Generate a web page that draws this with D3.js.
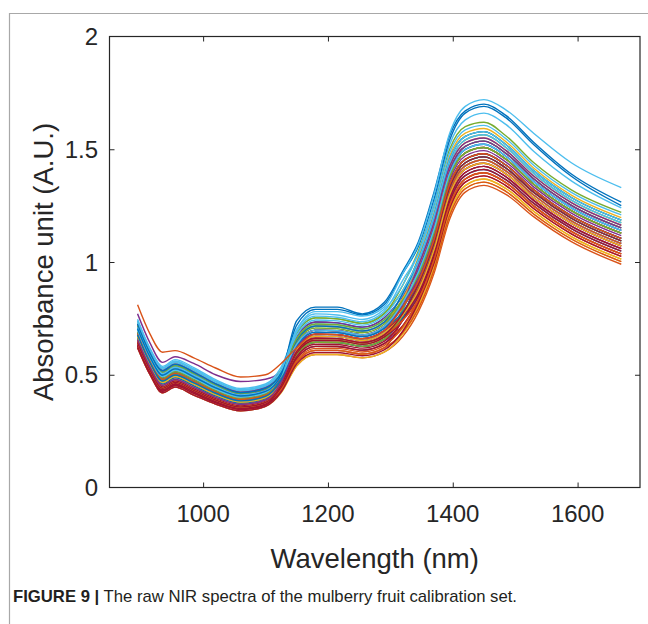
<!DOCTYPE html>
<html>
<head>
<meta charset="utf-8">
<script src="https://cdn.jsdelivr.net/npm/d3@7/dist/d3.min.js"></script>
<style>
  html, body { margin: 0; padding: 0; background: #fff; }
  svg { display: block; }
  text { font-family: "Liberation Sans", Arial, Helvetica, sans-serif; }
</style>
</head>
<body>
<svg id="chart" width="648" height="624"></svg>
<script>
// Wavelength grid (nm)
const wavelengths = [895, 915, 935, 955, 985, 1020, 1060, 1100, 1125, 1150, 1180, 1215, 1255, 1290, 1320, 1345, 1370, 1395, 1420, 1450, 1485, 1530, 1590, 1670];

// Spectra (absorbance, A.U.)
const specE1 = [.739,.61,.53,.56,.525,.472,.433,.453, .52, .70,.78,.78,.76,.80, .95, 1.08,1.30,1.57,1.69,1.72,1.675,1.57,1.44,1.33];
const specE2 = [.704,.578,.498,.526,.491,.442,.406,.426, .50, .74,.80,.80,.77,.82, .96, 1.09,1.31,1.56,1.67,1.70,1.65,1.53,1.39,1.265];
const specE3 = [.725,.597,.517,.546,.511,.46,.42,.44, .51, .72,.79,.79,.765,.81, .95, 1.07,1.28,1.54,1.66,1.69,1.64,1.52,1.38,1.25];
const specE4 = [.711,.585,.505,.533,.498,.448,.41,.43, .50, .69,.76,.755,.735,.78, .92, 1.04,1.26,1.52,1.63,1.66,1.61,1.49,1.36,1.24];
const specO  = [.81,.68,.60,.607,.575,.53,.49,.50, .55, .62,.68,.678,.66,.695, .80, .915,1.10,1.345,1.455,1.48,1.43,1.32,1.205,1.105];
const spec01 = [.69,.565,.485,.513,.478,.43,.395,.415, .486, .636,.698,.695,.677,.714, .802, .915,1.10,1.345,1.455,1.48,1.43,1.32,1.205,1.105];
const spec02 = [.634,.513,.433,.459,.424,.382,.351,.371, .426, .54,.59,.59,.575,.60, .67, .78,.95,1.19,1.31,1.34,1.30,1.20,1.09,.99];
const spec03 = [.662,.539,.459,.486,.451,.406,.373,.393, .45, .572,.626,.625,.609,.638, .706, .807,.98,1.221,1.339,1.368,1.326,1.224,1.113,1.013];
const spec04 = [.77,.64,.555,.58,.55,.50,.47,.48, .515, .652,.716,.713,.694,.733, .826, .942,1.13,1.376,1.484,1.508,1.456,1.344,1.228,1.128];
const spec05 = [.732,.604,.524,.553,.518,.466,.428,.448, .522, .684,.752,.748,.728,.771, .898, 1.05,1.25,1.50,1.60,1.62,1.56,1.44,1.32,1.22];
const spec06 = [.732,.604,.524,.553,.518,.466,.428,.448, .51, .652,.716,.713,.694,.733, .808, .902,1.085,1.33,1.44,1.466,1.417,1.308,1.194,1.094];
const spec07 = [.62,.50,.42,.445,.41,.37,.34,.36, .438, .588,.644,.643,.626,.657, .754, .888,1.07,1.314,1.426,1.452,1.404,1.296,1.182,1.082];
const spec08 = [.718,.591,.511,.54,.505,.454,.417,.437, .51, .668,.734,.73,.711,.752, .85, .969,1.16,1.407,1.513,1.536,1.482,1.368,1.251,1.151];
const spec09 = [.648,.526,.446,.472,.437,.394,.362,.382, .456, .604,.662,.66,.643,.676, .754, .861,1.04,1.283,1.397,1.424,1.378,1.272,1.159,1.059];
const spec10 = [.676,.552,.472,.499,.464,.418,.384,.404, .474, .62,.68,.678,.66,.695, .838, 1.023,1.22,1.469,1.571,1.592,1.534,1.416,1.297,1.197];
const spec11 = [.669,.546,.466,.493,.458,.412,.379,.399, .453, .572,.626,.625,.609,.638, .742, .861,1.04,1.283,1.397,1.424,1.378,1.272,1.159,1.059];
const spec12 = [.704,.578,.498,.526,.491,.442,.406,.426, .492, .636,.698,.695,.677,.714, .838, .996,1.19,1.438,1.542,1.564,1.508,1.392,1.274,1.174];
const spec13 = [.718,.591,.511,.54,.505,.454,.417,.437, .492, .62,.68,.678,.66,.695, .778, .888,1.07,1.314,1.426,1.452,1.404,1.296,1.182,1.082];
const spec14 = [.627,.507,.427,.452,.417,.376,.346,.366, .426, .556,.608,.608,.592,.619, .754, .942,1.13,1.376,1.484,1.508,1.456,1.344,1.228,1.128];
const spec15 = [.69,.565,.485,.513,.478,.43,.395,.415, .477, .612,.671,.669,.652,.686, .754, .848,1.025,1.268,1.383,1.41,1.365,1.26,1.148,1.048];
const spec16 = [.676,.552,.472,.499,.464,.418,.384,.404, .462, .588,.644,.643,.626,.657, .718, .82,.995,1.237,1.354,1.382,1.339,1.236,1.125,1.025];
const spec17 = [.648,.526,.446,.472,.437,.394,.362,.382, .438, .556,.608,.608,.592,.619, .682, .794,.965,1.206,1.325,1.354,1.313,1.212,1.102,1.002];
const spec18 = [.634,.513,.433,.459,.424,.382,.351,.371, .45, .604,.662,.66,.643,.676, .79, .956,1.145,1.392,1.499,1.522,1.469,1.356,1.24,1.14];
const spec19 = [.711,.585,.505,.533,.498,.448,.412,.432, .51, .684,.752,.748,.728,.771, .874, 1.01,1.205,1.454,1.557,1.578,1.521,1.404,1.286,1.186];
const spec20 = [.746,.617,.537,.567,.532,.478,.439,.459, .534, .70,.77,.765,.745,.79, .898, 1.037,1.235,1.485,1.586,1.606,1.547,1.428,1.309,1.209];
const spec21 = [.641,.52,.44,.466,.431,.388,.357,.377, .441, .572,.626,.625,.609,.638, .718, .834,1.01,1.252,1.368,1.396,1.352,1.248,1.136,1.036];
const spec22 = [.662,.539,.459,.486,.451,.406,.373,.393, .456, .588,.644,.643,.626,.657, .766, .915,1.10,1.345,1.455,1.48,1.43,1.32,1.205,1.105];
const spec23 = [.704,.578,.498,.526,.491,.442,.406,.426, .486, .62,.68,.678,.66,.695, .778, .888,1.07,1.314,1.426,1.452,1.404,1.296,1.182,1.082];
const spec24 = [.62,.50,.42,.445,.41,.37,.34,.36, .42, .54,.59,.59,.575,.60, .682, .807,.98,1.221,1.339,1.368,1.326,1.224,1.113,1.013];
const spec25 = [.648,.526,.446,.472,.437,.394,.362,.382, .468, .636,.698,.695,.677,.714, .802, .915,1.10,1.345,1.455,1.48,1.43,1.32,1.205,1.105];
const spec26 = [.676,.552,.472,.499,.464,.418,.384,.404, .462, .588,.644,.643,.626,.657, .79, .969,1.16,1.407,1.513,1.536,1.482,1.368,1.251,1.151];
const spec27 = [.634,.513,.433,.459,.424,.382,.351,.371, .456, .62,.68,.678,.66,.695, .766, .861,1.04,1.283,1.397,1.424,1.378,1.272,1.159,1.059];
const spec28 = [.69,.565,.485,.513,.478,.43,.395,.415, .498, .668,.734,.73,.711,.752, .85, .969,1.16,1.407,1.513,1.536,1.482,1.368,1.251,1.151];
const spec29 = [.683,.559,.479,.506,.471,.424,.39,.41, .48, .628,.689,.687,.669,.705, .814, .956,1.145,1.392,1.499,1.522,1.469,1.356,1.24,1.14];
const spec30 = [.655,.533,.453,.479,.444,.40,.368,.388, .444, .564,.617,.617,.601,.629, .712, .834,1.01,1.252,1.368,1.396,1.352,1.248,1.136,1.036];
const spec31 = [.697,.572,.492,.52,.485,.436,.401,.421, .495, .652,.716,.713,.694,.733, .838, .983,1.175,1.423,1.528,1.55,1.495,1.38,1.263,1.163];
const spec32 = [.711,.585,.505,.533,.498,.448,.412,.432, .486, .612,.671,.669,.652,.686, .766, .875,1.055,1.299,1.412,1.438,1.391,1.284,1.171,1.071];
const spec33 = [.669,.546,.466,.493,.458,.412,.379,.399, .48, .644,.707,.704,.686,.724, .826, .942,1.13,1.376,1.484,1.508,1.456,1.344,1.228,1.128];
const spec34 = [.739,.61,.531,.56,.525,.472,.434,.454, .516, .66,.725,.722,.703,.743, .856, .996,1.19,1.438,1.542,1.564,1.508,1.392,1.274,1.174];
const spec35 = [.627,.507,.427,.452,.417,.376,.346,.366, .438, .58,.635,.634,.618,.648, .742, .875,1.055,1.299,1.412,1.438,1.391,1.284,1.171,1.071];
const spec36 = [.704,.578,.498,.526,.491,.442,.406,.426, .498, .652,.716,.713,.694,.733, .862, 1.01,1.205,1.454,1.557,1.578,1.521,1.404,1.286,1.186];
const spec37 = [.641,.52,.44,.466,.431,.388,.357,.377, .435, .556,.608,.608,.592,.619, .688, .794,.965,1.206,1.325,1.354,1.313,1.212,1.102,1.002];
const spec38 = [.669,.546,.466,.493,.458,.412,.379,.399, .462, .596,.653,.652,.635,.667, .766, .902,1.085,1.33,1.44,1.466,1.417,1.308,1.194,1.094];
const spec39 = [.725,.598,.518,.547,.512,.46,.423,.443, .501, .636,.698,.695,.677,.714, .814, .929,1.115,1.361,1.47,1.494,1.443,1.332,1.217,1.117];
const spec40 = [.69,.565,.485,.513,.478,.43,.395,.415, .471, .596,.653,.652,.635,.667, .766, .902,1.085,1.33,1.44,1.466,1.417,1.308,1.194,1.094];
const spec41 = [.704,.578,.498,.526,.491,.442,.406,.426, .507, .676,.743,.739,.72,.762, .874, 1.01,1.205,1.454,1.557,1.578,1.521,1.404,1.286,1.186];
const spec42 = [.634,.513,.433,.459,.424,.382,.351,.371, .447, .596,.653,.652,.635,.667, .742, .848,1.025,1.268,1.383,1.41,1.365,1.26,1.148,1.048];
const spec43 = [.62,.50,.42,.445,.41,.37,.34,.36, .423, .548,.599,.599,.584,.61, .694, .82,.995,1.237,1.354,1.382,1.339,1.236,1.125,1.025];
const spec44 = [.683,.559,.479,.506,.471,.424,.39,.41, .471, .604,.662,.66,.643,.676, .742, .834,1.01,1.252,1.368,1.396,1.352,1.248,1.136,1.036];
const spec45 = [.676,.552,.472,.499,.464,.418,.384,.404, .477, .628,.689,.687,.669,.705, .78, .902,1.085,1.33,1.44,1.466,1.417,1.308,1.194,1.094];
const spec46 = [.641,.52,.44,.466,.431,.388,.357,.377, .456, .612,.671,.669,.652,.686, .766, .875,1.055,1.299,1.412,1.438,1.391,1.284,1.171,1.071];
const spec47 = [.655,.533,.453,.479,.444,.40,.368,.388, .465, .62,.68,.678,.66,.695, .82, .983,1.175,1.423,1.528,1.55,1.495,1.38,1.263,1.163];
const spec48 = [.718,.591,.511,.54,.505,.454,.417,.437, .504, .66,.725,.722,.703,.743, .832, .942,1.13,1.376,1.484,1.508,1.456,1.344,1.228,1.128];
const spec49 = [.641,.52,.44,.466,.431,.388,.357,.377, .453, .604,.662,.66,.643,.676, .772, .902,1.085,1.33,1.44,1.466,1.417,1.308,1.194,1.094];
const spec50 = [.697,.572,.492,.52,.485,.436,.401,.421, .495, .636,.698,.695,.677,.714, .82, .956,1.145,1.392,1.499,1.522,1.469,1.356,1.24,1.14];

// Draw order and colour index (MATLAB default colour order)
const spectra = [spec01, spec02, spec03, spec04, spec05, spec06, spec07, spec08, spec09, spec10,
                 spec11, spec12, spec13, spec14, spec15, spec16, spec17, spec18, spec19, spec20,
                 spec21, spec22, spec23, spec24, spec25, spec26, spec27, spec28, spec29, spec30,
                 spec31, spec32, spec33, spec34, spec35, spec36, spec37, spec38, spec39, spec40,
                 spec41, spec42, spec43, spec44, spec45, spec46, spec47, spec48, spec49, spec50,
                 specE4, specE3, specE2, specE1, specO];
const spectraColorIdx = [0,1,2,3,4,5,6,0,1,2,
                         3,4,5,6,0,1,2,3,4,5,
                         6,0,1,2,6,4,6,3,0,1,
                         2,3,4,5,6,0,1,2,3,4,
                         5,6,6,1,0,2,3,4,6,5,
                         5,0,0,5,1];
const palette = ["#0072BD", "#D95319", "#EDB120", "#7E2F8E", "#77AC30", "#4DBEEE", "#A2142F"];

const xTicks = [1000, 1200, 1400, 1600];
const yTicks = [0, 0.5, 1, 1.5, 2];
const yTickLabels = ["0", "0.5", "1", "1.5", "2"];
const xLabel = "Wavelength (nm)";
const yLabel = "Absorbance unit (A.U.)";
const captionBold = "FIGURE 9 |";
const captionText = " The raw NIR spectra of the mulberry fruit calibration set.";

const svg = d3.select("#chart");
svg.append("rect").attr("width", 648).attr("height", 624).attr("fill", "#fff");

// outer frame (top & left rules)
svg.append("path").attr("d", "M9.5,624 V13.5 H648").attr("fill", "none")
   .attr("stroke", "#a8a8a8").attr("stroke-width", 1.2);

const x = d3.scaleLinear().domain([850, 1700]).range([109.5, 640]);
const y = d3.scaleLinear().domain([0, 2]).range([487.5, 36.5]);

const line = d3.line()
  .x((d, i) => x(wavelengths[i]))
  .y(d => y(d))
  .curve(d3.curveMonotoneX);

const plot = svg.append("g");
spectra.forEach((s, k) => {
  plot.append("path")
    .attr("d", line(s))
    .attr("fill", "none")
    .attr("stroke", palette[spectraColorIdx[k]])
    .attr("stroke-width", 1.4);
});

// axes box with inward ticks
const axisColor = "#262626";
svg.append("g").attr("transform", `translate(0,${y(0)})`)
  .call(d3.axisBottom(x).tickValues(xTicks).tickSize(-5).tickFormat(""))
  .call(g => { g.select(".domain").remove(); g.selectAll("line").attr("stroke", axisColor); });
svg.append("g").attr("transform", `translate(0,${y(2)})`)
  .call(d3.axisTop(x).tickValues(xTicks).tickSize(-5).tickFormat(""))
  .call(g => { g.select(".domain").remove(); g.selectAll("line").attr("stroke", axisColor); });
svg.append("g").attr("transform", `translate(${x(850)},0)`)
  .call(d3.axisLeft(y).tickValues(yTicks.slice(1, 4)).tickSize(-5).tickFormat(""))
  .call(g => { g.select(".domain").remove(); g.selectAll("line").attr("stroke", axisColor); });
svg.append("g").attr("transform", `translate(${x(1700)},0)`)
  .call(d3.axisRight(y).tickValues(yTicks.slice(1, 4)).tickSize(-5).tickFormat(""))
  .call(g => { g.select(".domain").remove(); g.selectAll("line").attr("stroke", axisColor); });
svg.append("rect")
  .attr("x", x(850)).attr("y", y(2))
  .attr("width", x(1700) - x(850)).attr("height", y(0) - y(2))
  .attr("fill", "none").attr("stroke", axisColor).attr("stroke-width", 1.2);

// tick labels
svg.append("g").selectAll("text").data(xTicks).join("text")
  .attr("x", d => x(d)).attr("y", 522)
  .attr("text-anchor", "middle").attr("font-size", 24).attr("fill", axisColor)
  .text(d => d);
svg.append("g").selectAll("text").data(yTicks).join("text")
  .attr("x", 98).attr("y", d => y(d) + 8.5)
  .attr("text-anchor", "end").attr("font-size", 24).attr("fill", axisColor)
  .text((d, i) => yTickLabels[i]);

// axis labels
svg.append("text")
  .attr("x", (x(850) + x(1700)) / 2).attr("y", 568)
  .attr("text-anchor", "middle").attr("font-size", 27.5).attr("fill", axisColor)
  .text(xLabel);
svg.append("text")
  .attr("transform", `translate(53,${(y(0) + y(2)) / 2}) rotate(-90)`)
  .attr("text-anchor", "middle").attr("font-size", 27.5).attr("fill", axisColor)
  .text(yLabel);

// caption
const cap = svg.append("text").attr("x", 13).attr("y", 602)
  .attr("font-size", 17).attr("fill", "#231f20")
  .attr("textLength", 504).attr("lengthAdjust", "spacingAndGlyphs");
cap.append("tspan").attr("font-weight", "bold").text(captionBold);
cap.append("tspan").text(captionText);
</script>
</body>
</html>
